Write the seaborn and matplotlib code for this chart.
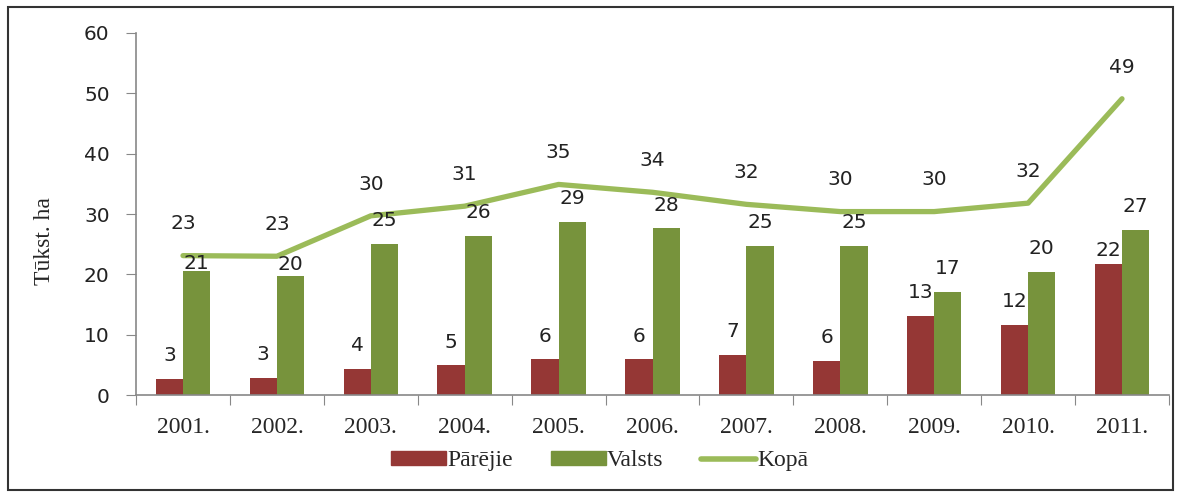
import numpy as np
import pandas as pd
import seaborn as sns
import matplotlib.pyplot as plt
from matplotlib.patches import Rectangle, Patch
from matplotlib.lines import Line2D

# data (thousand ha)
years = ["2001.", "2002.", "2003.", "2004.", "2005.", "2006.", "2007.", "2008.", "2009.", "2010.", "2011."]
parejie = [2.6, 2.8, 4.3, 4.9, 5.9, 5.9, 6.6, 5.6, 13.1, 11.6, 21.7]
valsts = [20.6, 19.8, 25.0, 26.4, 28.7, 27.6, 24.7, 24.7, 17.1, 20.4, 27.4]
kopa = [23.1, 23.0, 29.7, 31.3, 34.9, 33.6, 31.6, 30.4, 30.4, 31.8, 49.1]
series_names = ["Pārējie", "Valsts", "Kopā"]

red = "#953735"
green = "#77933C"
light_green = "#9BBB59"

df = pd.DataFrame({
    "year": years * 2,
    "value": parejie + valsts,
    "series": [series_names[0]] * len(years) + [series_names[1]] * len(years),
})

sns.set_style("white")
fig = plt.figure(figsize=(11.81, 4.94), dpi=100)
ax = fig.add_axes([0.1152, 0.2004, 0.8746, 0.7328])

sns.barplot(data=df, x="year", y="value", hue="series", order=years,
            hue_order=series_names[:2], palette=[red, green], width=0.58,
            saturation=1, linewidth=0, legend=False, ax=ax)
sns.lineplot(x=np.arange(len(years)), y=kopa, color=light_green, linewidth=3.8, ax=ax)

# data labels (a few were nudged in the original)
lab = dict(fontsize=14.5, family="DejaVu Sans", color="#222222", ha="center", va="bottom")
red_pad = [10] * len(years)
red_pad[10] = 3
green_pad = [10] * len(years)
green_pad[0] = -2
green_pad[1] = 1
for bars, vals, pads in [(ax.containers[0], parejie, red_pad), (ax.containers[1], valsts, green_pad)]:
    for b, v, p in zip(bars, vals, pads):
        ax.annotate(f"{round(v)}", (b.get_x() + b.get_width() / 2, b.get_height()),
                    xytext=(0, p), textcoords="offset points", **lab)
for i, v in enumerate(kopa):
    ax.annotate(f"{round(v)}", (i, v), xytext=(0, 16), textcoords="offset points", **lab)

ax.set_xlim(-0.5, len(years) - 0.5)
ax.set_ylim(0, 60)
ax.set_yticks(range(0, 61, 10))
ax.tick_params(axis="y", labelsize=14.5, length=7, color="#888888", left=True, pad=12)
for t in ax.get_yticklabels():
    t.set_family("DejaVu Sans")
    t.set_color("#222222")

# x ticks: marks at boundaries, labels at group centres
ax.set_xticks(np.arange(len(years) + 1) - 0.5)
ax.set_xticklabels([])
ax.set_xticks(np.arange(len(years)), minor=True)
ax.set_xticklabels(years, minor=True, fontsize=17, family="Liberation Serif")
ax.tick_params(axis="x", which="major", length=7, color="#888888", bottom=True)
ax.tick_params(axis="x", which="minor", length=0, pad=16)

ax.set_xlabel("")
ax.set_ylabel("Tūkst. ha", fontsize=17, family="Liberation Serif")
ax.yaxis.set_label_coords(-0.078, 0.425)
for s in ["top", "right"]:
    ax.spines[s].set_visible(False)
for s in ["left", "bottom"]:
    ax.spines[s].set_color("#888888")
    ax.spines[s].set_linewidth(1.2)

handles = [Patch(color=red), Patch(color=green), Line2D([], [], color=light_green, linewidth=4)]
fig.legend(handles, series_names, loc="center", bbox_to_anchor=(0.508, 0.067), ncol=3,
           frameon=False, prop={"family": "Liberation Serif", "size": 17},
           handlelength=2.33, handleheight=0.5, handletextpad=0.05, columnspacing=1.6)

# outer frame
fig.patches.append(Rectangle((0.007, 0.008), 0.986, 0.978, transform=fig.transFigure,
                             fill=False, edgecolor="#333333", linewidth=1.5))

fig.savefig("out.png", dpi=100)
